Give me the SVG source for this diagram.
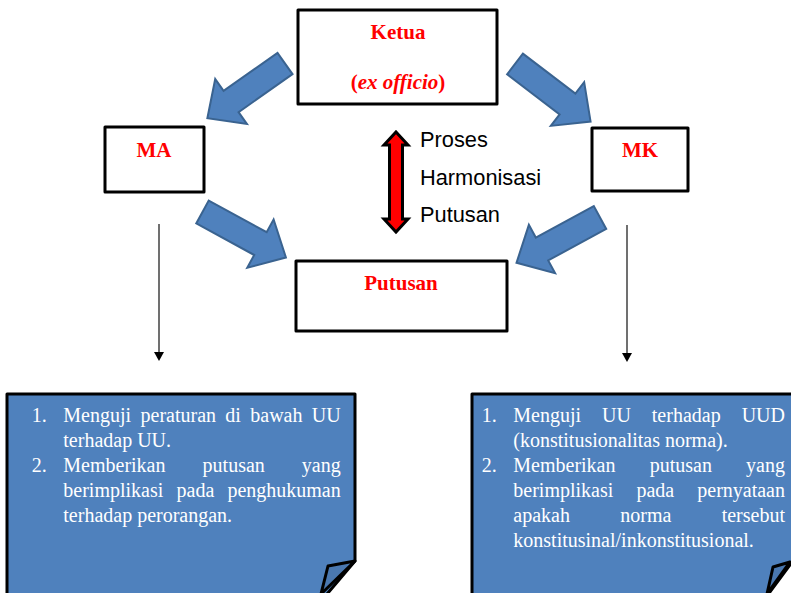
<svg xmlns="http://www.w3.org/2000/svg" width="791" height="593" viewBox="0 0 791 593">
  <style>
    .box { fill: #FFFFFF; stroke: #000000; stroke-width: 3; stroke-linejoin: round; }
    .title { font-family: "Liberation Serif", "Times New Roman", serif; font-weight: bold; font-size: 21px; fill: #FF0000; text-anchor: middle; }
    .label { font-family: "Liberation Sans", Arial, sans-serif; font-size: 21.8px; fill: #000000; }
    .note { fill: #4F81BD; stroke: #000000; stroke-width: 3; stroke-linejoin: round; }
    .fold { fill: #4A78B0; stroke: #000000; stroke-width: 3; stroke-linejoin: round; }
    .body { font-family: "Liberation Serif", "Times New Roman", serif; font-size: 20px; fill: #FFFFFF; }
    .end { text-anchor: end; }
    .block { fill: #4F81BD; stroke: #3A6390; stroke-width: 2; stroke-linejoin: miter; }
    .thin { stroke: #404040; stroke-width: 1.5; fill: none; }
  </style>
  <defs>
    <!-- block arrow pointing along +x, tail centre at the origin -->
    <path id="blockArrow" class="block" d="M0,-13 H66 V-27.5 L95,0 L66,27.5 V13 H0 Z"/>
  </defs>

  <rect width="791" height="593" fill="#FFFFFF"/>

  <!-- connectors -->
  <g id="connectors">
    <use href="#blockArrow" transform="translate(285,63.5) rotate(144.8)"/>
    <use href="#blockArrow" transform="translate(515,64) rotate(37.3)"/>
    <use href="#blockArrow" transform="translate(202.5,212) rotate(28.6)"/>
    <use href="#blockArrow" transform="translate(600,217.5) rotate(151.5)"/>

    <!-- two-way harmonisation arrow -->
    <path d="M396,132 L408,145 L402.5,145 L402.5,219 L408,219 L396,232 L384,219 L389.5,219 L389.5,145 L384,145 Z"
          fill="#FF0000" stroke="#000000" stroke-width="3" stroke-linejoin="miter"/>

    <!-- downward pointers to the task notes -->
    <line class="thin" x1="159" y1="224" x2="159" y2="353"/>
    <path d="M154,352 L164,352 L159,361 Z" fill="#000000"/>
    <line class="thin" x1="627" y1="225" x2="627" y2="354"/>
    <path d="M622,353 L632,353 L627,362 Z" fill="#000000"/>
  </g>

  <g id="harmonisasi-label">
    <text class="label" x="420" y="147">Proses</text>
    <text class="label" x="420" y="185">Harmonisasi</text>
    <text class="label" x="420" y="222">Putusan</text>
  </g>

  <g id="ketua">
    <rect class="box" x="298" y="10" width="199" height="94"/>
    <text class="title" x="398" y="39">Ketua</text>
    <text class="title" x="398" y="89">(<tspan font-style="italic">ex officio</tspan>)</text>
  </g>

  <g id="ma">
    <rect class="box" x="105" y="127" width="99" height="65"/>
    <text class="title" x="154" y="157">MA</text>
  </g>

  <g id="mk">
    <rect class="box" x="592" y="128" width="96" height="63"/>
    <text class="title" x="640" y="157">MK</text>
  </g>

  <g id="putusan">
    <rect class="box" x="296" y="261" width="211" height="70"/>
    <text class="title" x="401" y="290">Putusan</text>
  </g>

  <g id="note-ma">
    <path class="note" d="M7,394 H355 V561 L322,600 H7 Z"/>
    <path class="fold" d="M355,561 L328,566 L321,594 Z"/>
    <text class="body" x="31.7" y="422">1.</text>
    <text class="body" y="422"><tspan x="63.3">Menguji</tspan><tspan x="140.5">peraturan</tspan><tspan x="225.3">di</tspan><tspan x="250.3">bawah</tspan></text>
    <text class="body end" x="340.7" y="422">UU</text>
    <text class="body" x="63.3" y="447">terhadap UU.</text>
    <text class="body" x="31.7" y="472">2.</text>
    <text class="body" y="472"><tspan x="63.3">Memberikan</tspan><tspan x="202.6">putusan</tspan></text>
    <text class="body end" x="340.7" y="472">yang</text>
    <text class="body" y="497"><tspan x="63.3">berimplikasi</tspan><tspan x="176.5">pada</tspan></text>
    <text class="body end" x="340.7" y="497">penghukuman</text>
    <text class="body" x="63.3" y="522">terhadap perorangan.</text>
  </g>

  <g id="note-mk">
    <path class="note" d="M472,394 H795 V558 L764,600 H472 Z"/>
    <path class="fold" d="M790,562 L773,567 L767,594 Z"/>
    <text class="body" x="481.7" y="422">1.</text>
    <text class="body" y="422"><tspan x="513.3">Menguji</tspan><tspan x="602">UU</tspan><tspan x="651.8">terhadap</tspan></text>
    <text class="body end" x="785" y="422">UUD</text>
    <text class="body" x="513.3" y="447">(konstitusionalitas norma).</text>
    <text class="body" x="481.7" y="472">2.</text>
    <text class="body" y="472"><tspan x="513.3">Memberikan</tspan><tspan x="649.7">putusan</tspan></text>
    <text class="body end" x="785" y="472">yang</text>
    <text class="body" y="497"><tspan x="513.3">berimplikasi</tspan><tspan x="636.4">pada</tspan></text>
    <text class="body end" x="785" y="497">pernyataan</text>
    <text class="body" y="522"><tspan x="513.3">apakah</tspan><tspan x="620.3">norma</tspan></text>
    <text class="body end" x="785" y="522">tersebut</text>
    <text class="body" x="513.3" y="547">konstitusinal/inkonstitusional.</text>
  </g>
</svg>
